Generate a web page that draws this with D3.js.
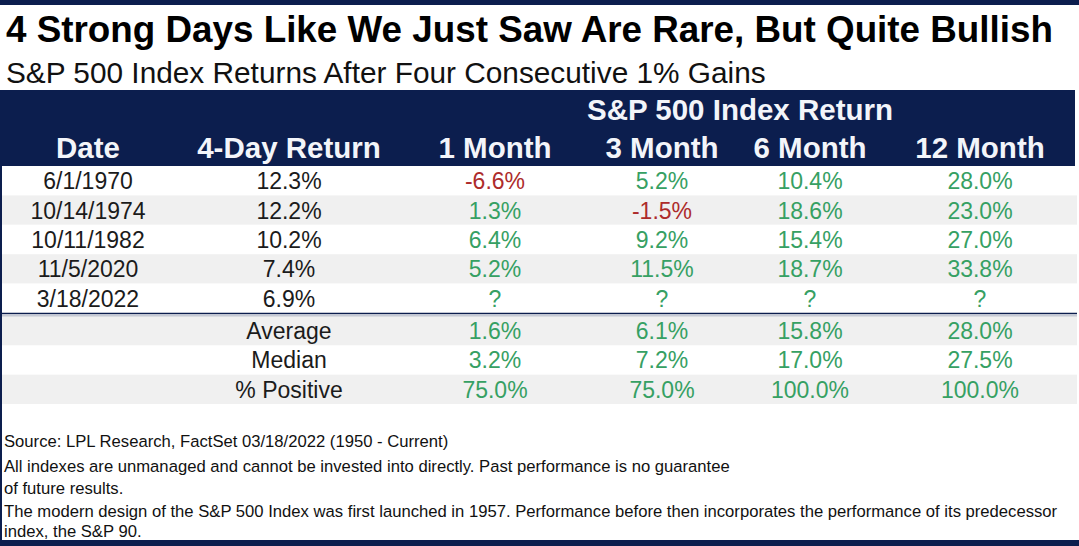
<!DOCTYPE html>
<html>
<head>
<meta charset="utf-8">
<script src="https://cdn.jsdelivr.net/npm/d3@7"></script>
<style>
  html, body { margin: 0; padding: 0; background: #ffffff; }
  svg { display: block; }
</style>
</head>
<body>
<svg id="chart" width="1079" height="546"></svg>
<script>
// ---------- DATA ----------
const titleText = "4 Strong Days Like We Just Saw Are Rare, But Quite Bullish";
const subtitleText = "S&P 500 Index Returns After Four Consecutive 1% Gains";
const groupHeader = "S&P 500 Index Return";
const columnHeaders = ["Date", "4-Day Return", "1 Month", "3 Month", "6 Month", "12 Month"];
const dates = ["6/1/1970", "10/14/1974", "10/11/1982", "11/5/2020", "3/18/2022"];
const fourDayReturn = [12.3, 12.2, 10.2, 7.4, 6.9];
const oneMonth = [-6.6, 1.3, 6.4, 5.2, null];
const threeMonth = [5.2, -1.5, 9.2, 11.5, null];
const sixMonth = [10.4, 18.6, 15.4, 18.7, null];
const twelveMonth = [28.0, 23.0, 27.0, 33.8, null];
const summaryLabels = ["Average", "Median", "% Positive"];
const averageRow = [1.6, 6.1, 15.8, 28.0];
const medianRow = [3.2, 7.2, 17.0, 27.5];
const positiveRow = [75.0, 75.0, 100.0, 100.0];
const footnotes = [
  "Source: LPL Research, FactSet 03/18/2022 (1950 - Current)",
  "All indexes are unmanaged and cannot be invested into directly. Past performance is no guarantee",
  "of future results.",
  "The modern design of the S&P 500 Index was first launched in 1957. Performance before then incorporates the performance of its predecessor",
  "index, the S&P 90."
];

// ---------- STYLE / LAYOUT ----------
const W = 1079, H = 546;
const NAVY = "#0c1e4e";
const GREEN = "#36a063";
const RED = "#ad2b2b";
const TEXT = "#1b1b1b";
const STRIPE = "#f0f0f0";
const FONT = "'Liberation Sans', Arial, sans-serif";

const svg = d3.select("#chart");

const colEdges = [0, 176, 402, 588, 736, 884, 1076];
const colX = d3.scaleOrdinal()
  .domain(columnHeaders)
  .range(columnHeaders.map((d, i) => (colEdges[i] + colEdges[i + 1]) / 2));

const dataRowY = d3.scaleBand().domain(d3.range(dates.length)).range([166, 313]).padding(0);
const sumRowY = d3.scaleBand().domain(d3.range(summaryLabels.length)).range([316, 404]).padding(0);

const locale = d3.formatLocale({ decimal: ".", thousands: ",", grouping: [3], currency: ["$", ""], minus: "-" });
const f1 = locale.format(".1f");
const fmt = v => v == null ? "?" : f1(v) + "%";
const colorOf = v => (v != null && v < 0) ? RED : GREEN;

// ---------- FRAME ----------
svg.append("rect").attr("x", 0).attr("y", 0).attr("width", W).attr("height", 5).attr("fill", NAVY);
svg.append("rect").attr("x", 0).attr("y", 540).attr("width", W).attr("height", 6).attr("fill", NAVY);

svg.append("text").attr("x", 6).attr("y", 42)
  .attr("font-family", FONT).attr("font-weight", "bold").attr("font-size", 36.8)
  .attr("fill", "#000").text(titleText);
svg.append("text").attr("x", 6).attr("y", 83)
  .attr("font-family", FONT).attr("font-size", 29.8)
  .attr("fill", "#111").text(subtitleText);

svg.append("rect").attr("x", 0).attr("y", 90).attr("width", 1075).attr("height", 76).attr("fill", NAVY);
svg.append("text").attr("x", (colEdges[2] + colEdges[6]) / 2 + 1).attr("y", 120)
  .attr("text-anchor", "middle").attr("font-family", FONT).attr("font-weight", "bold")
  .attr("font-size", 29.5).attr("fill", "#f3f5fa").text(groupHeader);
svg.append("g").selectAll("text").data(columnHeaders).join("text")
  .attr("x", d => colX(d)).attr("y", 158)
  .attr("text-anchor", "middle").attr("font-family", FONT).attr("font-weight", "bold")
  .attr("font-size", 29.5).attr("fill", "#f3f5fa").text(d => d);

svg.append("rect").attr("x", 0).attr("y", 166).attr("width", 2).attr("height", 374).attr("fill", NAVY);

// ---------- DATA ROWS ----------
const rows = dates.map((d, i) => ({
  i, cells: [d, fmt(fourDayReturn[i]), oneMonth[i], threeMonth[i], sixMonth[i], twelveMonth[i]]
}));

const rowG = svg.append("g").selectAll("g").data(rows).join("g")
  .attr("transform", d => `translate(0,${dataRowY(d.i)})`);
rowG.append("rect")
  .attr("x", 2).attr("y", 0).attr("width", 1075).attr("height", dataRowY.bandwidth())
  .attr("fill", d => d.i % 2 === 1 ? STRIPE : "#ffffff");
rowG.selectAll("text").data(d => d.cells.map((c, j) => ({ c, j }))).join("text")
  .attr("x", d => colX(columnHeaders[d.j]))
  .attr("y", dataRowY.bandwidth() / 2 + 8.5)
  .attr("text-anchor", "middle").attr("font-family", FONT).attr("font-size", 23)
  .attr("fill", d => d.j < 2 ? TEXT : colorOf(d.c))
  .text(d => d.j < 2 ? d.c : fmt(d.c));

svg.append("line").attr("x1", 2).attr("x2", 1077).attr("y1", 313.5).attr("y2", 313.5)
  .attr("stroke", NAVY).attr("stroke-width", 1.5);
svg.append("line").attr("x1", 2).attr("x2", 1077).attr("y1", 316).attr("y2", 316)
  .attr("stroke", "#8a93a8").attr("stroke-width", 1);

// ---------- SUMMARY ROWS ----------
const summaries = [averageRow, medianRow, positiveRow].map((vals, i) => ({ i, label: summaryLabels[i], vals }));
const sumG = svg.append("g").selectAll("g").data(summaries).join("g")
  .attr("transform", d => `translate(0,${sumRowY(d.i)})`);
sumG.append("rect")
  .attr("x", 2).attr("y", d => d.i === 0 ? 0.5 : 0).attr("width", 1075).attr("height", sumRowY.bandwidth())
  .attr("fill", d => d.i % 2 === 0 ? STRIPE : "#ffffff");
sumG.append("text")
  .attr("x", colX(columnHeaders[1])).attr("y", sumRowY.bandwidth() / 2 + 8.5)
  .attr("text-anchor", "middle").attr("font-family", FONT).attr("font-size", 23)
  .attr("fill", TEXT).text(d => d.label);
sumG.selectAll("text.v").data(d => d.vals.map((v, j) => ({ v, j }))).join("text")
  .attr("class", "v")
  .attr("x", d => colX(columnHeaders[d.j + 2]))
  .attr("y", sumRowY.bandwidth() / 2 + 8.5)
  .attr("text-anchor", "middle").attr("font-family", FONT).attr("font-size", 23)
  .attr("fill", d => colorOf(d.v)).text(d => fmt(d.v));

// ---------- FOOTNOTES ----------
const footY = [447, 472, 494, 517, 537];
const fg = svg.append("g");
const ft = fg.selectAll("text").data(footnotes).join("text")
  .attr("x", 0).attr("y", (d, i) => footY[i])
  .attr("font-family", "'Liberation Sans Narrow', 'Arial Narrow', 'Liberation Sans', Arial, sans-serif")
  .attr("font-size", 16.5).attr("fill", "#111").text(d => d);
const longest = ft.filter((d, i) => i === 3).node().getComputedTextLength();
const sx = 1054 / longest;
ft.attr("transform", (d, i) => `translate(4,${footY[i]}) scale(${sx},1) translate(0,${-footY[i]})`);
</script>
</body>
</html>
